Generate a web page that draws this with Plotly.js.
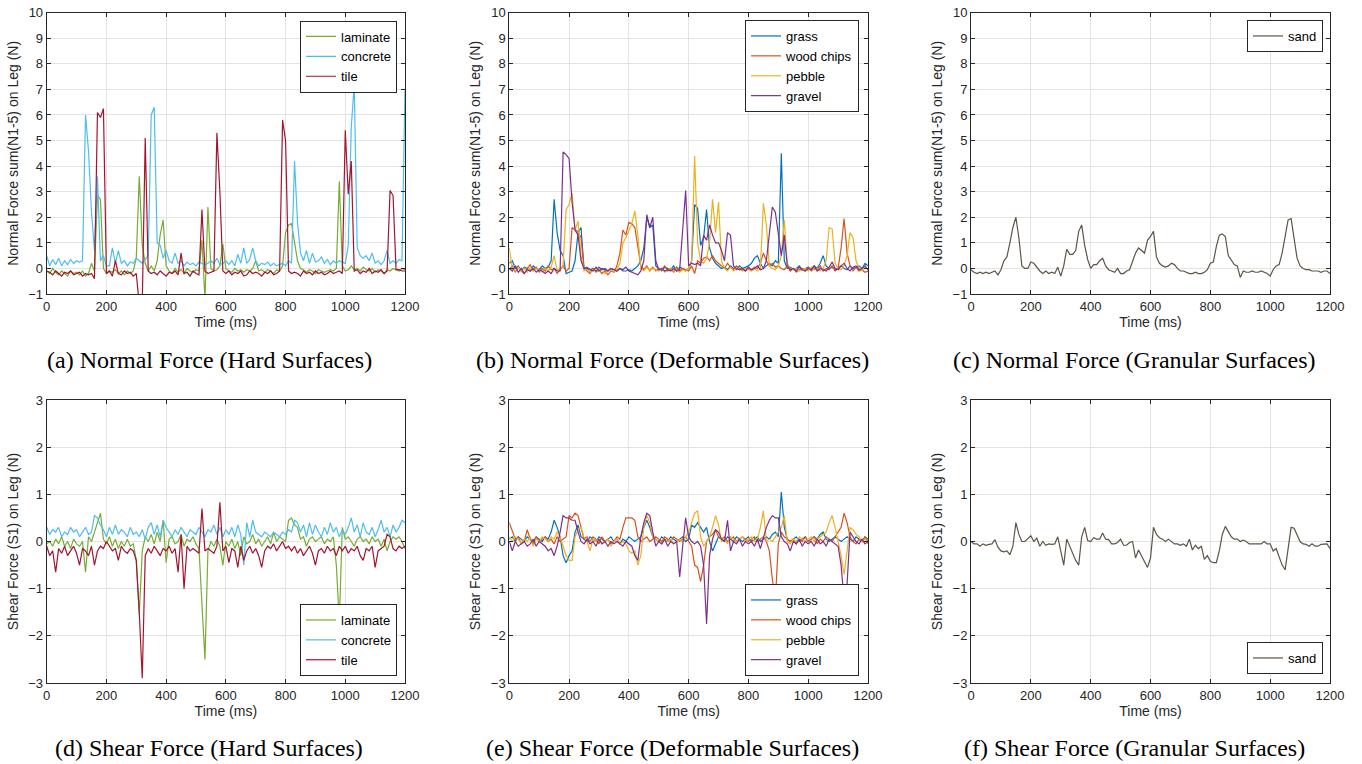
<!DOCTYPE html>
<html><head><meta charset="utf-8">
<script src="https://cdn.plot.ly/plotly-3.0.1.min.js"></script>
<style>html,body{margin:0;padding:0;background:#fff}#chart{width:1362px;height:764px}</style>
</head><body><div id="chart"></div>
<script>
const timeMs = [0,10,20,30,40,50,60,70,80,90,100,110,120,130,140,150,160,170,180,190,200,210,220,230,240,250,260,270,280,290,300,310,320,330,340,350,360,370,380,390,400,410,420,430,440,450,460,470,480,490,500,510,520,530,540,550,560,570,580,590,600,610,620,630,640,650,660,670,680,690,700,710,720,730,740,750,760,770,780,790,800,810,820,830,840,850,860,870,880,890,900,910,920,930,940,950,960,970,980,990,1000,1010,1020,1030,1040,1050,1060,1070,1080,1090,1100,1110,1120,1130,1140,1150,1160,1170,1180,1190,1200];

const xTicks = [0,200,400,600,800,1000,1200];
const normalTicks = [-1,0,1,2,3,4,5,6,7,8,9,10];
const shearTicks = [-3,-2,-1,0,1,2,3];

const hardNames = ["laminate","concrete","tile"];
const deformNames = ["grass","wood chips","pebble","gravel"];
const granularNames = ["sand"];

const captions = ["(a) Normal Force (Hard Surfaces)","(b) Normal Force (Deformable Surfaces)","(c) Normal Force (Granular Surfaces)","(d) Shear Force (Hard Surfaces)","(e) Shear Force (Deformable Surfaces)","(f) Shear Force (Granular Surfaces)"];

// ---- Normal force, hard surfaces ----
const laminateNormal = [-0.1,-0.2,0.0,-0.15,-0.25,-0.1,-0.2,-0.3,-0.1,-0.2,
-0.15,-0.25,-0.1,-0.3,-0.2,0.2,-0.1,2.85,2.7,0.0,
-0.2,-0.1,-0.15,-0.05,-0.2,-0.1,-0.25,-0.1,-0.2,-0.1,
0.4,3.6,0.9,0.2,-0.1,0.1,-0.1,0.3,1.3,1.9,
0.1,-0.1,-0.2,0.0,-0.15,-0.05,-0.2,0.0,-0.1,-0.15,
-0.05,-0.1,1.1,-1.2,2.4,0.0,-0.1,-0.05,0.1,0.95,
0.0,-0.1,-0.15,0.0,-0.1,-0.05,-0.15,-0.05,-0.1,0.0,
0.3,-0.1,-0.05,-0.15,-0.05,-0.1,-0.2,-0.05,-0.1,0.1,
1.4,1.7,1.75,1.0,0.3,0.0,-0.05,-0.15,-0.05,-0.1,
-0.2,-0.05,-0.1,-0.15,-0.1,-0.05,-0.1,0.0,3.4,0.1,
-0.1,-0.05,0.1,-0.05,0.0,-0.1,0.05,-0.05,-0.1,0.0,
-0.15,-0.05,-0.1,-0.2,-0.05,-0.1,0.0,-0.05,-0.1,0.0,
-0.05];
const concreteNormal = [0.5,0.1,0.35,0.15,0.4,0.1,0.3,0.15,0.35,0.2,
0.3,0.25,0.3,6.0,4.6,2.2,0.7,3.6,0.3,0.5,
0.1,0.1,0.8,0.2,0.7,0.2,0.3,0.1,0.25,0.2,
0.4,0.3,0.2,0.35,0.5,6.0,6.3,1.0,0.9,0.4,
0.7,0.3,0.2,0.6,0.2,0.3,0.1,0.25,0.15,0.2,
0.1,0.25,0.2,0.15,0.2,0.3,0.2,0.4,0.15,0.2,
0.3,0.15,0.3,0.1,0.55,0.2,0.8,0.2,0.35,0.8,
0.3,0.1,0.2,0.15,0.25,0.1,0.2,0.1,0.15,0.2,
0.1,0.3,0.2,4.2,1.8,0.6,0.3,0.7,0.2,0.6,
0.25,0.3,0.45,0.2,0.35,0.15,0.3,0.2,0.3,0.25,
0.2,0.9,5.5,7.2,0.8,0.5,0.4,0.5,0.3,0.6,
0.2,0.3,0.15,0.3,0.7,0.2,0.3,0.2,0.35,0.3,
7.0];
const tileNormal = [-0.1,-0.15,-0.25,-0.1,-0.2,-0.3,-0.15,-0.2,-0.1,-0.25,
-0.2,-0.15,-0.3,-0.2,-0.25,-0.2,-0.4,6.1,5.9,6.25,
-0.2,-0.1,-0.3,0.3,-0.2,-0.25,-0.1,-0.2,-0.15,-0.3,
-0.2,-1.4,-1.4,5.1,-0.1,-0.2,-0.15,-0.25,-0.1,-0.2,
-0.3,-0.15,-0.2,-0.1,-0.25,0.6,-0.2,-0.15,-0.3,-0.1,
-0.2,-0.25,2.3,-0.1,-0.2,-0.15,-0.1,5.3,3.0,-0.1,
-0.2,-0.1,-0.25,-0.15,-0.2,-0.1,-0.3,-0.25,-0.1,-0.2,
-0.15,-0.2,-0.3,-0.15,-0.2,-0.1,-0.25,-0.2,-0.1,5.8,
5.0,-0.1,-0.2,-0.15,-0.2,-0.3,-0.1,-0.2,-0.15,-0.25,
-0.1,-0.2,-0.15,-0.25,-0.2,-0.1,-0.2,-0.15,-0.1,-0.2,
5.4,2.9,4.2,-0.1,-0.05,-0.2,-0.1,-0.15,0.0,-0.2,
-0.1,-0.15,-0.05,-0.2,-0.1,3.05,2.85,-0.05,-0.05,-0.1,
-0.1];

// ---- Normal force, deformable surfaces ----
const grassNormal = [0.2,0.3,0.0,0.1,-0.1,0.05,0.0,-0.1,0.1,0.0,
-0.05,0.1,0.0,0.05,0.3,2.7,1.4,0.7,0.5,-0.2,
-0.15,-0.1,0.3,1.4,1.6,0.0,0.05,-0.05,0.0,-0.1,
0.05,-0.05,0.0,-0.1,0.0,-0.05,-0.1,0.0,-0.1,-0.1,
-0.05,-0.1,0.0,0.1,0.3,0.8,2.0,1.6,1.7,0.1,
0.0,-0.1,0.05,0.0,-0.05,0.1,-0.1,0.05,0.0,-0.1,
0.0,0.3,2.5,2.35,0.9,1.2,2.3,0.8,0.4,0.2,
0.1,0.0,0.05,-0.05,0.1,0.0,-0.05,0.1,0.0,0.05,
0.1,0.2,0.4,0.5,0.2,0.0,0.1,0.2,0.1,0.3,
0.2,4.5,0.3,0.0,0.05,-0.05,0.0,0.1,-0.05,0.0,
0.05,-0.05,0.1,0.0,0.2,0.5,0.1,0.0,0.05,-0.05,
0.0,0.1,0.0,-0.05,0.1,0.0,0.05,0.1,0.0,0.2,
0.1];
const woodChipsNormal = [-0.05,0.1,-0.15,0.05,-0.1,-0.2,0.0,0.15,-0.1,0.05,
-0.15,0.0,-0.1,0.1,-0.05,0.0,-0.2,-0.05,0.1,-0.1,
0.0,1.6,1.5,1.45,1.2,0.0,-0.1,-0.2,0.0,-0.15,
-0.05,-0.2,-0.1,-0.25,-0.1,-0.15,0.1,0.6,1.5,1.3,
1.8,1.75,1.6,0.8,0.1,-0.05,0.1,-0.1,0.05,-0.1,
0.0,-0.05,0.1,-0.1,0.0,-0.15,0.05,-0.1,0.0,-0.05,
-0.1,0.1,-0.2,0.3,0.2,0.4,0.45,0.3,0.5,0.3,
0.2,0.1,0.0,0.2,0.05,-0.05,0.1,0.0,-0.05,-0.1,
0.0,-0.05,0.05,0.0,0.2,0.6,0.3,0.1,0.2,0.05,
0.1,0.0,-0.05,0.1,-0.1,0.0,-0.15,-0.05,0.0,-0.1,
0.05,-0.1,0.0,-0.05,0.1,-0.1,0.0,-0.05,0.1,-0.1,
0.0,0.8,1.95,0.6,0.1,-0.1,0.05,-0.1,-0.05,-0.15,
-0.1];
const pebbleNormal = [0.8,0.0,-0.1,0.05,-0.1,0.0,-0.15,0.05,-0.1,0.0,
-0.05,-0.15,0.0,-0.1,0.05,0.5,-0.1,0.0,0.1,2.3,
2.5,2.95,1.5,1.85,0.5,-0.1,0.0,-0.15,-0.05,0.0,
-0.1,-0.05,-0.2,-0.1,0.0,-0.15,-0.05,0.2,1.0,1.2,
1.5,1.75,2.25,1.3,0.0,-0.1,0.05,-0.1,0.0,-0.05,
-0.1,0.0,-0.15,-0.05,0.0,-0.1,-0.05,-0.15,-0.05,-0.1,
0.0,0.3,4.4,1.0,0.3,0.2,0.4,1.0,2.7,1.4,
2.6,0.3,0.0,-0.1,0.05,-0.1,0.0,-0.05,-0.1,0.0,
-0.05,-0.1,0.0,-0.1,0.0,2.55,1.7,0.1,0.0,-0.05,
0.1,0.5,1.9,0.2,0.0,-0.05,0.0,-0.1,-0.05,0.0,
-0.1,0.05,-0.05,0.0,-0.1,0.0,0.3,1.6,1.55,0.2,
0.0,-0.05,0.1,0.5,1.4,1.2,0.3,0.0,-0.1,0.05,
-0.05];
const gravelNormal = [0.0,-0.1,0.1,-0.15,0.0,-0.2,-0.05,-0.1,0.0,-0.15,
-0.05,-0.1,-0.2,-0.1,-0.2,0.0,-0.1,-0.1,4.55,4.45,
4.3,2.6,1.5,1.3,0.3,0.0,0.0,-0.05,-0.1,0.05,
-0.1,0.0,-0.05,-0.1,0.0,-0.05,-0.1,0.0,-0.05,0.05,
-0.1,-0.15,-0.2,-0.25,-0.1,0.3,2.1,1.6,2.0,0.3,
-0.05,0.0,-0.1,-0.05,-0.1,0.0,-0.1,-0.05,1.5,3.05,
0.1,0.2,0.15,0.2,0.1,1.3,1.1,1.7,1.3,1.0,
1.0,0.7,0.3,1.4,1.3,0.1,0.0,-0.05,0.0,-0.1,
0.05,-0.05,0.0,0.1,-0.05,0.0,0.3,1.5,2.4,2.2,
1.4,0.5,1.3,0.1,-0.05,0.0,-0.1,0.05,-0.05,-0.1,
0.0,-0.05,0.1,-0.1,0.0,-0.05,-0.1,0.05,0.25,0.0,
-0.05,0.1,0.2,0.0,-0.1,0.05,0.1,-0.05,0.0,0.1,
-0.05];

// ---- Normal force, granular surface ----
const sandNormal = [-0.05,-0.15,-0.2,-0.15,-0.2,-0.15,-0.2,-0.15,-0.1,-0.25,
-0.05,0.3,0.45,1.0,1.6,2.0,1.2,0.1,0.0,0.0,
0.25,0.2,0.05,-0.1,-0.2,-0.1,-0.2,-0.15,-0.2,0.05,
-0.3,0.1,0.75,0.55,0.55,0.7,1.45,1.7,0.9,0.35,
0.0,0.15,0.15,0.3,0.4,0.1,-0.05,-0.1,-0.15,0.0,
-0.2,-0.2,-0.1,-0.05,0.3,0.6,0.8,0.7,0.6,1.1,
1.25,1.45,0.45,0.2,0.1,0.05,0.1,0.2,0.15,0.0,
-0.1,-0.1,-0.15,-0.2,-0.2,-0.15,-0.2,-0.2,-0.15,-0.05,
0.2,0.25,0.85,1.3,1.35,1.25,0.5,0.3,0.15,0.1,
-0.35,-0.1,-0.15,-0.15,-0.1,-0.15,-0.15,-0.1,-0.15,-0.2,
-0.3,-0.05,0.1,0.15,0.6,1.3,1.9,1.95,1.2,0.4,
0.1,0.0,-0.05,-0.05,-0.1,-0.1,-0.1,-0.15,-0.1,-0.1,
-0.2];

// ---- Shear force, hard surfaces ----
const laminateShear = [-0.05,0.0,-0.1,0.05,-0.05,0.1,-0.1,0.0,-0.15,0.05,
-0.05,-0.1,0.0,-0.65,0.1,0.0,0.2,0.4,0.6,0.05,
-0.05,0.1,-0.1,0.05,-0.15,0.0,-0.1,0.05,-0.1,-0.05,
-0.4,-1.55,-0.2,0.1,0.0,0.15,-0.05,0.2,0.0,0.45,
-0.45,0.05,0.1,-0.05,0.0,0.15,-0.1,0.05,0.0,0.1,
-0.05,-0.15,-1.3,-2.5,-0.2,0.0,-0.1,0.05,-0.1,-0.5,
0.0,-0.1,0.05,-0.15,0.0,-0.3,0.1,-0.05,0.0,0.15,
-0.05,0.05,-0.1,0.0,0.1,-0.05,0.2,0.0,0.1,0.05,
0.0,0.45,0.5,0.35,0.3,0.05,0.1,-0.1,0.05,0.1,
0.0,0.05,0.1,-0.05,0.05,0.0,0.1,-0.5,-1.7,0.3,
0.05,0.1,0.0,-0.1,0.05,0.1,0.0,0.05,-0.05,0.1,
0.0,0.05,-0.1,0.05,-0.2,0.0,0.1,0.05,0.1,0.0,
-0.15];
const concreteShear = [0.3,0.15,0.25,0.2,0.3,0.1,0.2,0.15,0.3,0.2,
0.25,0.1,0.2,0.3,0.15,0.2,0.55,0.5,0.35,0.25,
0.1,0.3,0.15,0.35,0.15,0.25,0.2,0.1,0.3,0.15,
0.2,0.1,0.25,0.05,0.3,0.4,0.15,0.35,0.1,0.45,
0.3,0.2,0.1,0.25,0.15,0.3,0.2,0.1,0.25,0.2,
0.15,0.3,0.2,0.1,0.25,0.2,0.35,0.15,0.3,0.1,
0.25,0.15,0.3,0.1,0.35,0.15,-0.5,0.4,0.1,0.45,
0.2,0.15,0.1,0.2,0.15,0.1,0.2,0.15,0.1,0.2,
0.15,0.25,0.2,0.45,0.4,0.2,0.35,0.1,0.4,0.15,
0.35,0.2,0.1,0.3,0.15,0.4,0.2,0.3,0.1,0.25,
0.15,0.3,0.5,0.2,0.35,0.1,0.4,0.2,0.15,0.3,
0.1,0.25,0.45,0.2,0.3,0.1,0.35,0.2,0.3,0.45,
0.4];
const tileShear = [-0.1,-0.3,-0.2,-0.65,-0.15,-0.25,-0.1,-0.3,-0.2,-0.1,
-0.25,-0.5,-0.15,-0.2,-0.3,-0.1,-0.5,-0.2,-0.1,-0.15,
0.0,-0.1,-0.2,-0.15,-0.4,-0.1,-0.2,-0.25,-0.15,-0.2,
-0.4,-1.5,-2.9,-0.3,-0.15,-0.25,-0.1,-0.2,-0.3,-0.15,
-0.2,-0.1,-0.25,-0.15,-0.65,0.15,-1.0,-0.1,-0.2,-0.15,
-0.2,-0.25,0.7,-0.2,-0.15,-0.2,-0.25,-0.1,0.83,-0.2,
-0.1,-0.45,-0.15,-0.2,-0.55,-0.1,-0.4,-0.2,-0.1,-0.25,
-0.15,-0.3,-0.55,-0.2,-0.1,-0.15,-0.05,-0.2,-0.1,0.0,
-0.15,-0.1,-0.2,-0.1,-0.25,-0.15,-0.3,-0.2,-0.1,-0.25,
-0.5,-0.2,-0.15,-0.25,-0.1,-0.2,-0.15,-0.3,-0.1,-0.2,
-0.1,-0.25,-0.15,-0.2,-0.1,-0.3,-0.4,-0.15,-0.2,-0.1,
-0.55,-0.2,-0.15,-0.1,0.15,0.1,-0.15,-0.2,-0.1,-0.15,
-0.1];

// ---- Shear force, deformable surfaces ----
const grassShear = [0.05,0.1,0.0,0.1,0.05,0.0,0.1,0.05,0.0,0.1,
0.05,0.0,0.1,0.05,0.2,0.45,0.3,0.1,-0.3,-0.45,
-0.3,-0.2,0.2,0.35,0.1,0.05,0.0,0.1,0.05,0.0,
0.1,0.05,0.0,0.05,0.1,0.0,0.05,-0.05,0.05,0.0,
0.1,0.05,0.0,0.05,0.1,0.3,0.45,0.3,0.1,0.05,
0.0,0.1,0.05,0.0,0.1,0.05,0.0,0.05,0.1,0.0,
0.05,0.35,0.3,0.4,0.3,0.2,0.3,0.0,-0.2,-0.05,
0.1,0.05,0.0,0.1,0.05,0.0,0.1,0.05,0.0,0.05,
0.1,0.0,0.05,0.1,0.0,0.05,0.1,0.05,0.15,0.2,
0.1,1.05,0.3,0.05,0.0,0.05,0.1,0.0,0.05,0.1,
0.0,0.05,0.1,0.05,0.15,0.2,0.05,0.0,0.05,0.1,
0.05,0.0,0.05,0.1,0.05,0.0,0.1,0.05,0.0,0.1,
0.05];
const woodChipsShear = [0.4,0.2,0.05,0.1,-0.05,0.0,0.25,0.05,-0.05,0.1,
0.0,0.05,0.1,0.0,0.05,-0.05,0.1,0.0,0.05,0.1,
0.55,0.5,0.6,0.55,0.3,0.05,0.1,0.0,0.1,0.05,
-0.05,0.1,0.0,0.05,-0.05,0.0,0.1,0.05,0.3,0.5,
0.5,0.5,0.45,0.1,0.0,0.05,0.1,0.0,0.05,0.1,
0.05,0.0,0.1,0.05,0.0,0.1,0.05,0.0,0.05,0.1,
0.0,-0.1,-0.5,-0.55,-0.85,-0.5,0.0,0.1,0.15,0.25,
0.1,0.05,0.1,0.0,0.05,0.1,0.0,0.05,0.1,0.05,
0.0,0.05,0.1,0.0,0.05,0.1,0.0,-0.2,-0.8,-1.25,
-0.05,0.2,0.1,0.05,0.0,0.05,-0.05,0.05,0.0,0.1,
0.0,0.05,0.1,-0.05,0.05,0.0,0.1,0.05,0.0,0.1,
0.2,0.3,0.6,0.4,0.1,0.0,-0.05,0.05,0.0,0.1,
0.0];
const pebbleShear = [0.1,0.0,0.1,0.05,-0.05,0.05,0.0,0.1,-0.1,0.05,
0.0,0.1,0.05,0.0,0.1,0.05,0.2,0.1,-0.1,-0.3,
-0.4,-0.4,0.1,0.25,0.3,0.1,0.0,-0.2,0.05,0.0,
0.05,-0.05,0.0,0.05,-0.1,0.0,0.05,-0.05,0.0,-0.05,
-0.2,-0.25,-0.2,-0.5,-0.3,0.3,0.55,0.4,0.1,0.05,
0.0,-0.05,0.05,0.0,0.05,-0.05,0.0,0.05,0.0,0.1,
0.2,0.4,0.6,0.65,0.1,-0.1,0.0,0.1,0.3,0.55,
0.35,0.0,0.05,-0.05,0.1,0.05,0.0,0.05,0.1,0.0,
0.05,0.1,0.0,0.05,0.3,0.65,0.0,0.05,0.0,0.1,
0.2,0.3,0.55,0.0,-0.05,0.05,0.0,0.1,0.05,0.0,
0.05,0.1,0.0,0.05,0.1,0.15,0.2,0.4,0.55,0.3,
0.0,-0.3,-0.7,-0.2,0.3,0.25,0.15,0.1,0.0,0.05,
-0.05];
const gravelShear = [0.0,-0.2,0.0,-0.1,-0.05,0.0,-0.1,-0.05,0.05,-0.1,
0.0,-0.05,-0.1,-0.2,-0.15,-0.3,-0.1,0.2,0.55,0.5,
0.5,0.45,0.45,0.2,0.0,-0.05,0.05,-0.05,0.0,-0.1,
0.05,-0.05,0.0,-0.1,0.0,-0.05,0.0,-0.05,-0.1,0.0,
-0.05,-0.1,-0.3,-0.4,0.1,0.4,0.6,0.55,0.2,-0.1,
0.0,-0.05,0.05,-0.1,0.0,-0.05,0.0,-0.75,-0.1,0.5,
0.1,0.0,-0.05,0.0,-0.1,-0.5,-1.75,-0.3,0.05,0.25,
0.2,0.05,0.0,0.45,-0.2,0.0,-0.05,0.05,-0.1,0.0,
-0.05,0.0,-0.1,0.05,-0.15,0.1,0.3,0.45,0.55,0.5,
0.5,0.1,0.0,-0.05,-0.2,0.0,-0.05,0.05,-0.1,0.0,
-0.05,0.0,-0.1,0.05,-0.05,0.0,-0.1,0.05,0.0,-0.05,
-0.1,-0.5,-1.25,-0.9,0.2,0.1,0.0,-0.05,0.05,-0.05,
0.0];

// ---- Shear force, granular surface ----
const sandShear = [0.0,-0.05,-0.05,-0.1,-0.05,-0.08,-0.06,-0.05,0.04,-0.12,
-0.2,-0.22,-0.2,-0.28,-0.1,0.4,0.15,0.0,0.0,0.05,
0.12,0.0,0.07,-0.1,0.0,-0.08,-0.05,-0.06,-0.05,0.1,
-0.2,-0.5,0.05,-0.1,-0.25,-0.4,-0.5,0.1,0.3,0.02,
0.0,0.08,0.05,0.05,0.18,0.05,0.04,-0.05,-0.05,-0.02,
0.05,-0.08,-0.08,-0.02,0.0,-0.35,-0.18,-0.3,-0.42,-0.55,
-0.35,0.3,0.15,0.08,0.05,0.0,0.05,0.0,-0.05,-0.05,
-0.08,-0.05,-0.1,0.05,-0.18,-0.08,-0.15,-0.1,-0.38,-0.3,
-0.42,-0.45,-0.45,-0.2,0.15,0.32,0.2,0.1,0.05,0.05,
0.0,0.03,0.0,-0.05,-0.05,-0.05,-0.05,-0.05,0.0,-0.05,
-0.05,-0.2,-0.15,-0.35,-0.5,-0.6,-0.1,0.3,0.28,0.15,
0.0,-0.05,-0.06,-0.1,-0.05,-0.1,-0.1,-0.06,-0.05,-0.05,
-0.15];

// ---- styling ----
const colors = {laminate:"#77AC30", concrete:"#4DBEEE", tile:"#A2142F",
  grass:"#0072BD", "wood chips":"#D95319", pebble:"#EDB120", gravel:"#7E2F8E", sand:"#5E5446"};
const W = 1362, H = 764;
const fx = p => p / W, fy = p => 1 - p / H;
const sans = "Liberation Sans, Arial, Helvetica, sans-serif";
const serif = "Liberation Serif, Times New Roman, serif";

function series(name, values, n, legendId) {
  return {x: timeMs, y: values, type: "scatter", mode: "lines", name: name,
    line: {color: colors[name], width: 1.2}, xaxis: "x" + (n === 1 ? "" : n), yaxis: "y" + (n === 1 ? "" : n),
    legend: legendId, showlegend: true, hoverinfo: "skip"};
}

const data = [
  series("laminate", laminateNormal, 1, "legend"),
  series("concrete", concreteNormal, 1, "legend"),
  series("tile", tileNormal, 1, "legend"),
  series("grass", grassNormal, 2, "legend2"),
  series("wood chips", woodChipsNormal, 2, "legend2"),
  series("pebble", pebbleNormal, 2, "legend2"),
  series("gravel", gravelNormal, 2, "legend2"),
  series("sand", sandNormal, 3, "legend3"),
  series("laminate", laminateShear, 4, "legend4"),
  series("concrete", concreteShear, 4, "legend4"),
  series("tile", tileShear, 4, "legend4"),
  series("grass", grassShear, 5, "legend5"),
  series("wood chips", woodChipsShear, 5, "legend5"),
  series("pebble", pebbleShear, 5, "legend5"),
  series("gravel", gravelShear, 5, "legend5"),
  series("sand", sandShear, 6, "legend6")
];

const xDomains = [[fx(46.7), fx(405)], [fx(509.3), fx(868)], [fx(971), fx(1330)]];
const yTop = [fy(294), fy(12.7)], yBot = [fy(683), fy(400)];

function xAxis(col, anchor) {
  return {domain: xDomains[col], anchor: anchor, range: [0, 1200], tickvals: xTicks,
    ticks: "inside", ticklen: 4, tickcolor: "#262626", showline: true, linecolor: "#262626", linewidth: 1,
    mirror: "ticks", showgrid: true, gridcolor: "#e3e3e3", gridwidth: 1, zeroline: false,
    tickfont: {family: sans, size: 13, color: "#262626"},
    title: {text: "Time (ms)", font: {family: sans, size: 14, color: "#262626"}, standoff: 2}};
}
function yAxis(dom, range, ticks, label, anchor) {
  return {domain: dom, anchor: anchor, range: range, tickvals: ticks,
    ticks: "inside", ticklen: 4, tickcolor: "#262626", showline: true, linecolor: "#262626", linewidth: 1,
    mirror: "ticks", showgrid: true, gridcolor: "#e3e3e3", gridwidth: 1, zeroline: false,
    tickfont: {family: sans, size: 13, color: "#262626"},
    title: {text: label, font: {family: sans, size: 14, color: "#262626"}, standoff: 6}};
}
const normalLabel = "Normal Force sum(N1-5) on Leg (N)";
const shearLabel = "Shear Force (S1) on Leg (N)";

function legendAt(xr, y, anchorY) {
  return {x: fx(xr), y: fy(y), xanchor: "right", yanchor: anchorY, bgcolor: "#ffffff",
    bordercolor: "#262626", borderwidth: 1, font: {family: sans, size: 13, color: "#000"},
    tracegroupgap: 0, itemwidth: 30};
}

const layout = {
  width: W, height: H, margin: {l: 0, r: 0, t: 0, b: 0},
  paper_bgcolor: "#fff", plot_bgcolor: "#fff", showlegend: true,
  xaxis: xAxis(0, "y"), yaxis: yAxis(yTop, [-1, 10], normalTicks, normalLabel, "x"),
  xaxis2: xAxis(1, "y2"), yaxis2: yAxis(yTop, [-1, 10], normalTicks, normalLabel, "x2"),
  xaxis3: xAxis(2, "y3"), yaxis3: yAxis(yTop, [-1, 10], normalTicks, normalLabel, "x3"),
  xaxis4: xAxis(0, "y4"), yaxis4: yAxis(yBot, [-3, 3], shearTicks, shearLabel, "x4"),
  xaxis5: xAxis(1, "y5"), yaxis5: yAxis(yBot, [-3, 3], shearTicks, shearLabel, "x5"),
  xaxis6: xAxis(2, "y6"), yaxis6: yAxis(yBot, [-3, 3], shearTicks, shearLabel, "x6"),
  legend: legendAt(397, 20.5, "top"),
  legend2: legendAt(859, 20, "top"),
  legend3: legendAt(1323, 20, "top"),
  legend4: legendAt(397, 676, "bottom"),
  legend5: legendAt(859, 676, "bottom"),
  legend6: legendAt(1323, 674, "bottom"),
  annotations: [[209,360],[672,360],[1134,360],[209,748],[672,748],[1134,748]].map((p, i) => ({
    text: captions[i], xref: "paper", yref: "paper", x: fx(p[0]), y: fy(p[1]),
    xanchor: "center", yanchor: "middle", showarrow: false,
    font: {family: serif, size: 24, color: "#000"}}))
};

Plotly.newPlot("chart", data, layout, {staticPlot: true, displayModeBar: false});
</script></body></html>
